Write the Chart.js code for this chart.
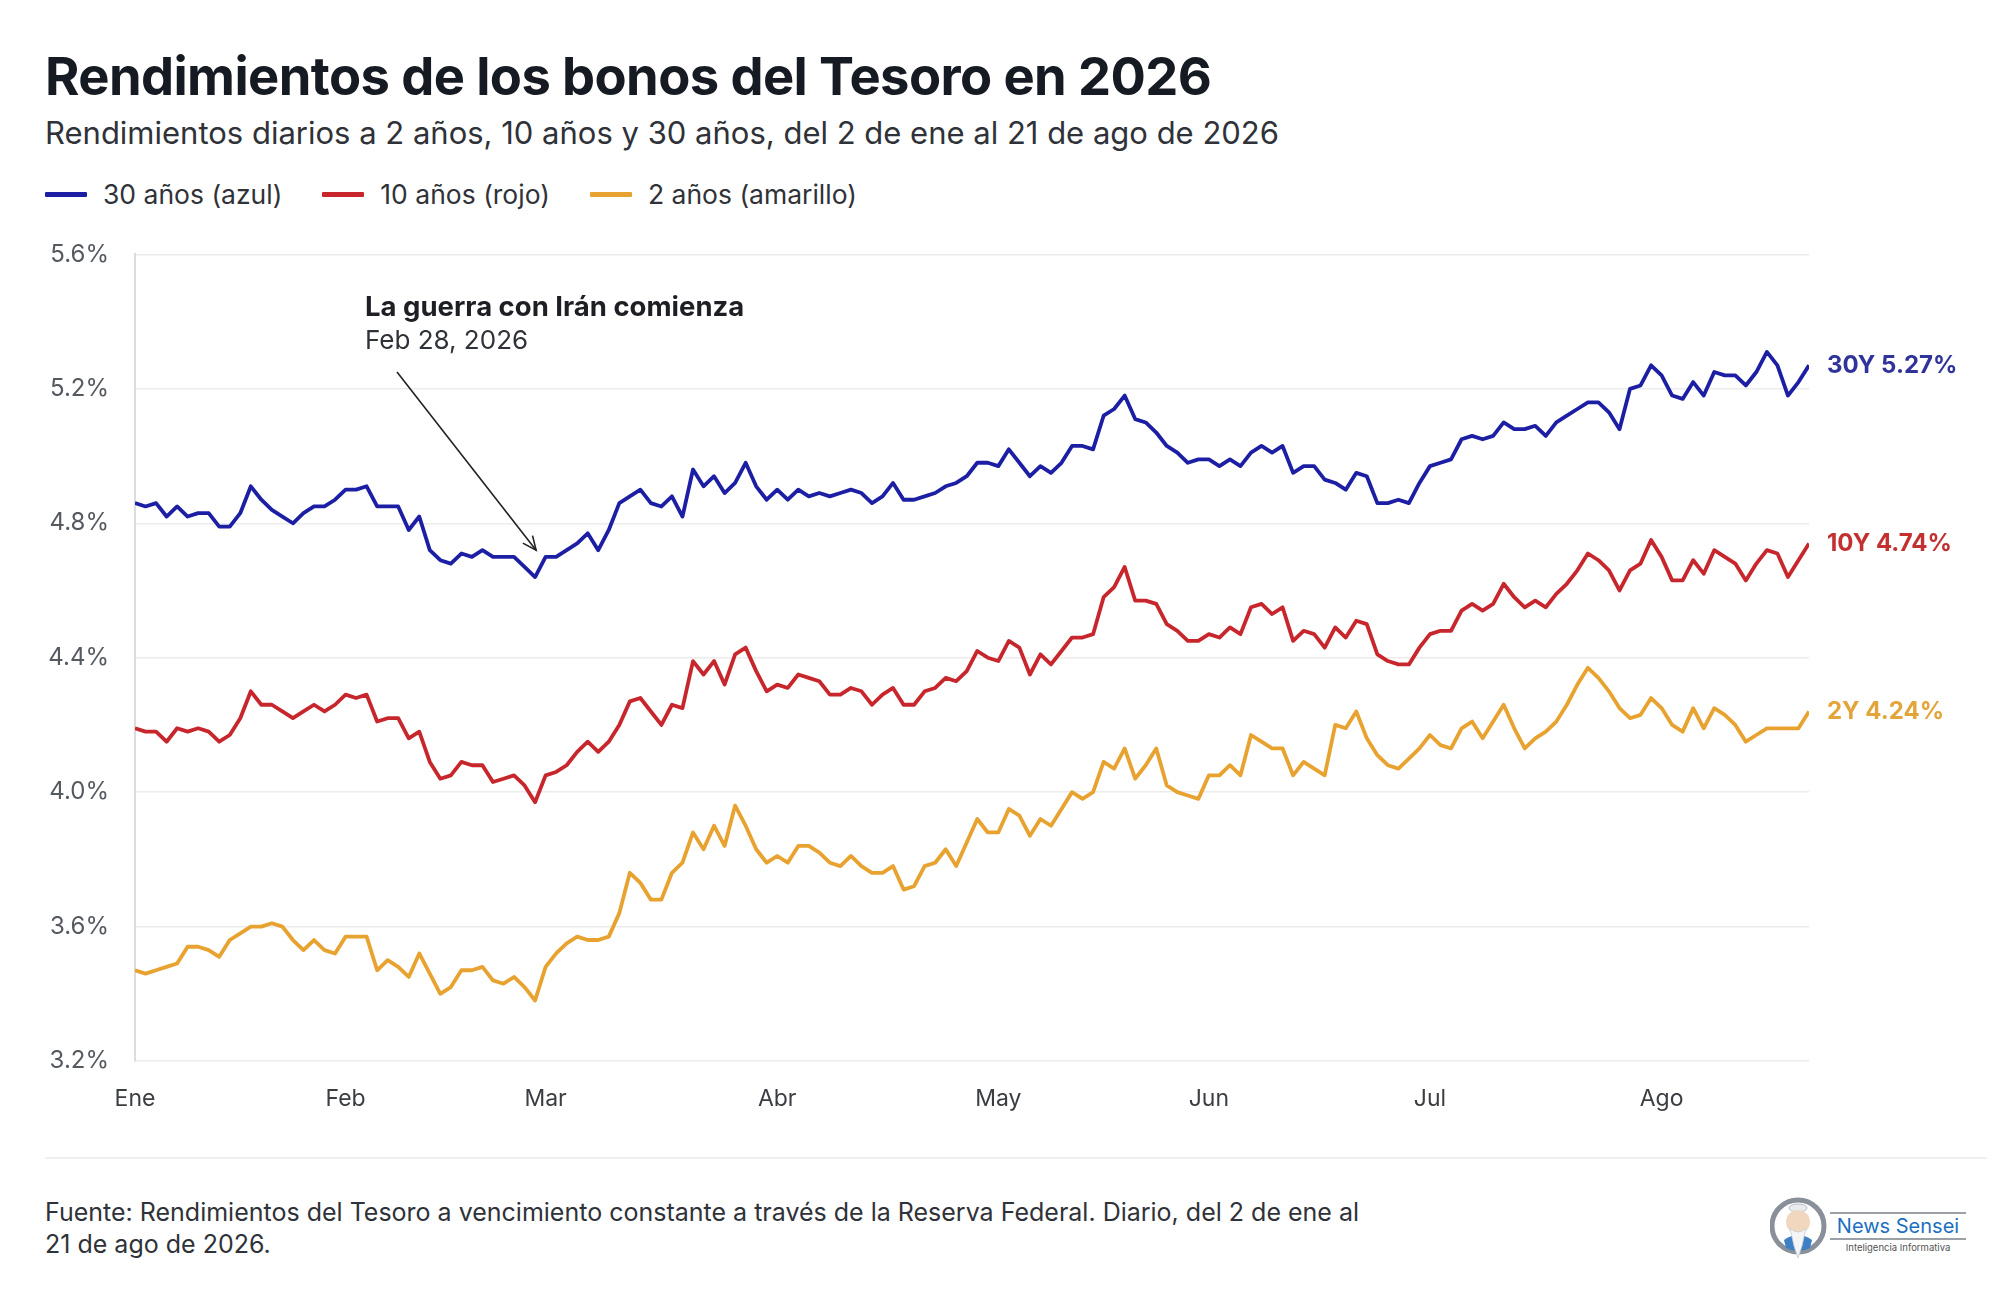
<!DOCTYPE html>
<html lang="es">
<head>
  <meta charset="UTF-8" />
  <title>Rendimientos de los bonos del Tesoro en 2026</title>
  <script src="https://cdn.jsdelivr.net/npm/chart.js"></script>
  <style>
    body {
      margin: 0;
      width: 2000px;
      height: 1305px;
      background: #fff;
      font-family: "Inter", "Noto Sans", sans-serif;
      color: #111;
      position: relative;
      overflow: hidden;
    }
    .title {
      position: absolute;
      left: 45px; top: 50px;
      font-size: 52.5px; line-height: 52px;
      font-weight: 700;
      letter-spacing: -0.6px;
      color: #161a22;
      white-space: nowrap;
    }
    .subtitle {
      position: absolute;
      left: 45px; top: 117px;
      font-size: 31px; line-height: 31px;
      color: #2f3238;
      white-space: nowrap;
    }
    .legend {
      position: absolute;
      left: 45px; top: 180px;
      height: 28px;
      display: flex;
      align-items: center;
      font-size: 26.5px;
      color: #2f3238;
    }
    .legend .item { display: flex; align-items: center; margin-right: 40px; }
    .legend .swatch { width: 42px; height: 5px; margin-right: 16px; border-radius: 1px; }
    .chart-box {
      position: absolute;
      left: 0; top: 214px;
      width: 2000px; height: 913px;
    }
    .sep {
      position: absolute;
      left: 45px; top: 1157px;
      width: 1942px; height: 2px;
      background: #efefef;
    }
    .footer {
      position: absolute;
      left: 45px; top: 1196px;
      font-size: 25px; line-height: 32px;
      color: #2f3238;
    }
    .logo {
      position: absolute;
      left: 1770px; top: 1196px;
      width: 210px; height: 70px;
    }
    .logo .brand {
      position: absolute;
      left: 60px; top: 16px;
      width: 136px;
      border-top: 2px solid #9aa0a6;
      border-bottom: 2px solid #9aa0a6;
      text-align: center;
      font-size: 20px; line-height: 24px;
      color: #1c6fc0;
    }
    .logo .tag {
      position: absolute;
      left: 60px; top: 46px;
      width: 136px;
      text-align: center;
      font-size: 9.5px;
      color: #555;
    }
  </style>
</head>
<body>
  <div class="title">Rendimientos de los bonos del Tesoro en 2026</div>
  <div class="subtitle">Rendimientos diarios a 2 años, 10 años y 30 años, del 2 de ene al 21 de ago de 2026</div>
  <div class="legend" id="legend"></div>

  <div class="chart-box"><canvas id="yieldChart"></canvas></div>

  <div class="sep"></div>
  <div class="footer">Fuente: Rendimientos del Tesoro a vencimiento constante a través de la Reserva Federal. Diario, del 2 de ene al<br>21 de ago de 2026.</div>

  <div class="logo">
    <svg width="58" height="68" viewBox="0 0 58 68" style="position:absolute;left:0;top:0">
      <circle cx="28" cy="30" r="26" fill="none" stroke="#8a9099" stroke-width="5" />
      <circle cx="28" cy="30" r="21" fill="#fff" />
      <ellipse cx="28" cy="12" rx="9" ry="4" fill="#e9ecef" stroke="#b8bec5" />
      <circle cx="28" cy="26" r="12" fill="#f2d7bf" />
      <path d="M14 44 Q28 34 42 44 L40 52 Q28 58 16 52 Z" fill="#3d7fc4" />
      <path d="M20 32 Q28 40 36 32 L32 50 L28 62 L24 50 Z" fill="#f4f5f6" stroke="#c7ccd1" stroke-width="0.8" />
    </svg>
    <div class="brand">News Sensei</div>
    <div class="tag">Inteligencia Informativa</div>
  </div>

  <script>
    // month ticks: first trading day of each month (index into the daily series)
    const monthNames = ["Ene", "Feb", "Mar", "Abr", "May", "Jun", "Jul", "Ago"];
    const monthStart = [0, 20, 39, 61, 82, 102, 123, 145];

    const seriesNames = ["30 años (azul)", "10 años (rojo)", "2 años (amarillo)"];
    const seriesShort = ["30Y", "10Y", "2Y"];
    const lineColors = ["#1c1fa3", "#c8262d", "#e8a22f"];
    const labelColors = ["#30349a", "#c2302f", "#e3a53a"];

    // daily yields, Jan 2 - Aug 21 2026 (trading days)
    const y30 = [
      4.86,4.85,4.86,4.82,4.85,4.82,4.83,4.83,4.79,4.79,
      4.83,4.91,4.87,4.84,4.82,4.80,4.83,4.85,4.85,4.87,
      4.90,4.90,4.91,4.85,4.85,4.85,4.78,4.82,4.72,4.69,
      4.68,4.71,4.70,4.72,4.70,4.70,4.70,4.67,4.64,4.70,
      4.70,4.72,4.74,4.77,4.72,4.78,4.86,4.88,4.90,4.86,
      4.85,4.88,4.82,4.96,4.91,4.94,4.89,4.92,4.98,4.91,
      4.87,4.90,4.87,4.90,4.88,4.89,4.88,4.89,4.90,4.89,
      4.86,4.88,4.92,4.87,4.87,4.88,4.89,4.91,4.92,4.94,
      4.98,4.98,4.97,5.02,4.98,4.94,4.97,4.95,4.98,5.03,
      5.03,5.02,5.12,5.14,5.18,5.11,5.10,5.07,5.03,5.01,
      4.98,4.99,4.99,4.97,4.99,4.97,5.01,5.03,5.01,5.03,
      4.95,4.97,4.97,4.93,4.92,4.90,4.95,4.94,4.86,4.86,
      4.87,4.86,4.92,4.97,4.98,4.99,5.05,5.06,5.05,5.06,
      5.10,5.08,5.08,5.09,5.06,5.10,5.12,5.14,5.16,5.16,
      5.13,5.08,5.20,5.21,5.27,5.24,5.18,5.17,5.22,5.18,
      5.25,5.24,5.24,5.21,5.25,5.31,5.27,5.18,5.22,5.27
    ];
    const y10 = [
      4.19,4.18,4.18,4.15,4.19,4.18,4.19,4.18,4.15,4.17,
      4.22,4.30,4.26,4.26,4.24,4.22,4.24,4.26,4.24,4.26,
      4.29,4.28,4.29,4.21,4.22,4.22,4.16,4.18,4.09,4.04,
      4.05,4.09,4.08,4.08,4.03,4.04,4.05,4.02,3.97,4.05,
      4.06,4.08,4.12,4.15,4.12,4.15,4.20,4.27,4.28,4.24,
      4.20,4.26,4.25,4.39,4.35,4.39,4.32,4.41,4.43,4.36,
      4.30,4.32,4.31,4.35,4.34,4.33,4.29,4.29,4.31,4.30,
      4.26,4.29,4.31,4.26,4.26,4.30,4.31,4.34,4.33,4.36,
      4.42,4.40,4.39,4.45,4.43,4.35,4.41,4.38,4.42,4.46,
      4.46,4.47,4.58,4.61,4.67,4.57,4.57,4.56,4.50,4.48,
      4.45,4.45,4.47,4.46,4.49,4.47,4.55,4.56,4.53,4.55,
      4.45,4.48,4.47,4.43,4.49,4.46,4.51,4.50,4.41,4.39,
      4.38,4.38,4.43,4.47,4.48,4.48,4.54,4.56,4.54,4.56,
      4.62,4.58,4.55,4.57,4.55,4.59,4.62,4.66,4.71,4.69,
      4.66,4.60,4.66,4.68,4.75,4.70,4.63,4.63,4.69,4.65,
      4.72,4.70,4.68,4.63,4.68,4.72,4.71,4.64,4.69,4.74
    ];
    const y2 = [
      3.47,3.46,3.47,3.48,3.49,3.54,3.54,3.53,3.51,3.56,
      3.58,3.60,3.60,3.61,3.60,3.56,3.53,3.56,3.53,3.52,
      3.57,3.57,3.57,3.47,3.50,3.48,3.45,3.52,3.46,3.40,
      3.42,3.47,3.47,3.48,3.44,3.43,3.45,3.42,3.38,3.48,
      3.52,3.55,3.57,3.56,3.56,3.57,3.64,3.76,3.73,3.68,
      3.68,3.76,3.79,3.88,3.83,3.90,3.84,3.96,3.90,3.83,
      3.79,3.81,3.79,3.84,3.84,3.82,3.79,3.78,3.81,3.78,
      3.76,3.76,3.78,3.71,3.72,3.78,3.79,3.83,3.78,3.85,
      3.92,3.88,3.88,3.95,3.93,3.87,3.92,3.90,3.95,4.00,
      3.98,4.00,4.09,4.07,4.13,4.04,4.08,4.13,4.02,4.00,
      3.99,3.98,4.05,4.05,4.08,4.05,4.17,4.15,4.13,4.13,
      4.05,4.09,4.07,4.05,4.20,4.19,4.24,4.16,4.11,4.08,
      4.07,4.10,4.13,4.17,4.14,4.13,4.19,4.21,4.16,4.21,
      4.26,4.19,4.13,4.16,4.18,4.21,4.26,4.32,4.37,4.34,
      4.30,4.25,4.22,4.23,4.28,4.25,4.20,4.18,4.25,4.19,
      4.25,4.23,4.20,4.15,4.17,4.19,4.19,4.19,4.19,4.24
    ];

    const yTicksMin = 3.2, yTicksMax = 5.6, yStep = 0.4;

    // event marker: Feb 28, 2026 (between day 38 and 39)
    const eventIndex = 38.1, eventValue = 4.72;
    const eventTitle = "La guerra con Irán comienza";
    const eventDate = "Feb 28, 2026";

    const allSeries = [y30, y10, y2];

    // html legend
    const legendEl = document.getElementById("legend");
    seriesNames.forEach((name, k) => {
      const it = document.createElement("div");
      it.className = "item";
      it.innerHTML = '<span class="swatch" style="background:' + lineColors[k] + '"></span>' + name;
      legendEl.appendChild(it);
    });

    const endLabels = {
      id: "endLabels",
      afterDatasetsDraw(chart) {
        const c = chart.ctx;
        c.save();
        c.font = "700 24px Inter";
        c.textBaseline = "middle";
        c.textAlign = "left";
        chart.data.datasets.forEach((ds, k) => {
          const last = ds.data[ds.data.length - 1];
          const px = chart.scales.x.getPixelForValue(last.x);
          const py = chart.scales.y.getPixelForValue(last.y);
          c.fillStyle = labelColors[k];
          c.fillText(seriesShort[k] + " " + last.y.toFixed(2) + "%", px + 18, py);
        });
        c.restore();
      }
    };

    const eventNote = {
      id: "eventNote",
      afterDatasetsDraw(chart) {
        const c = chart.ctx;
        const tx = chart.scales.x.getPixelForValue(eventIndex);
        const ty = chart.scales.y.getPixelForValue(eventValue);
        const sx = 397, sy = 158;
        c.save();
        c.fillStyle = "#1d1f24";
        c.textBaseline = "middle";
        c.font = "700 27.5px Inter";
        c.fillText(eventTitle, 365, 94);
        c.font = "400 26px Inter";
        c.fillStyle = "#2f3238";
        c.fillText(eventDate, 365, 127);
        c.strokeStyle = "#222";
        c.lineWidth = 1.6;
        c.beginPath();
        c.moveTo(sx, sy);
        c.lineTo(tx, ty);
        c.stroke();
        const a = Math.atan2(ty - sy, tx - sx);
        const L = 15;
        c.beginPath();
        c.moveTo(tx - L * Math.cos(a - 0.42), ty - L * Math.sin(a - 0.42));
        c.lineTo(tx, ty);
        c.lineTo(tx - L * Math.cos(a + 0.42), ty - L * Math.sin(a + 0.42));
        c.stroke();
        c.restore();
      }
    };

    new Chart(document.getElementById("yieldChart"), {
      type: "line",
      data: {
        datasets: allSeries.map((arr, k) => ({
          label: seriesNames[k],
          data: arr.map((v, i) => ({ x: i, y: v })),
          borderColor: lineColors[k],
          borderWidth: 3.8,
          pointRadius: 0,
          tension: 0,
          borderJoinStyle: "round"
        }))
      },
      options: {
        responsive: true,
        maintainAspectRatio: false,
        animation: false,
        layout: { padding: { top: 8, right: 191, left: 0, bottom: 0 } },
        plugins: {
          legend: { display: false },
          tooltip: { enabled: false }
        },
        scales: {
          x: {
            type: "linear",
            min: 0,
            max: y30.length - 1,
            afterBuildTicks(scale) {
              scale.ticks = monthStart.map(v => ({ value: v }));
            },
            afterFit(scale) { scale.height = 66; },
            grid: { display: false, drawTicks: false },
            border: { display: false },
            ticks: {
              autoSkip: false,
              maxRotation: 0,
              padding: 24,
              color: "#3a3d42",
              font: { family: "Inter", size: 23 },
              callback: v => monthNames[monthStart.indexOf(v)]
            }
          },
          y: {
            min: yTicksMin,
            max: yTicksMax,
            afterFit(scale) { scale.width = 135; },
            grid: { color: "#ececec", lineWidth: 1.5, drawTicks: false },
            border: { display: true, color: "#dcdcdc", width: 2 },
            ticks: {
              stepSize: yStep,
              padding: 26,
              color: "#555a60",
              font: { family: "Inter", size: 24 },
              callback: v => v.toFixed(1) + "%"
            }
          }
        }
      },
      plugins: [endLabels, eventNote]
    });
  </script>
</body>
</html>
